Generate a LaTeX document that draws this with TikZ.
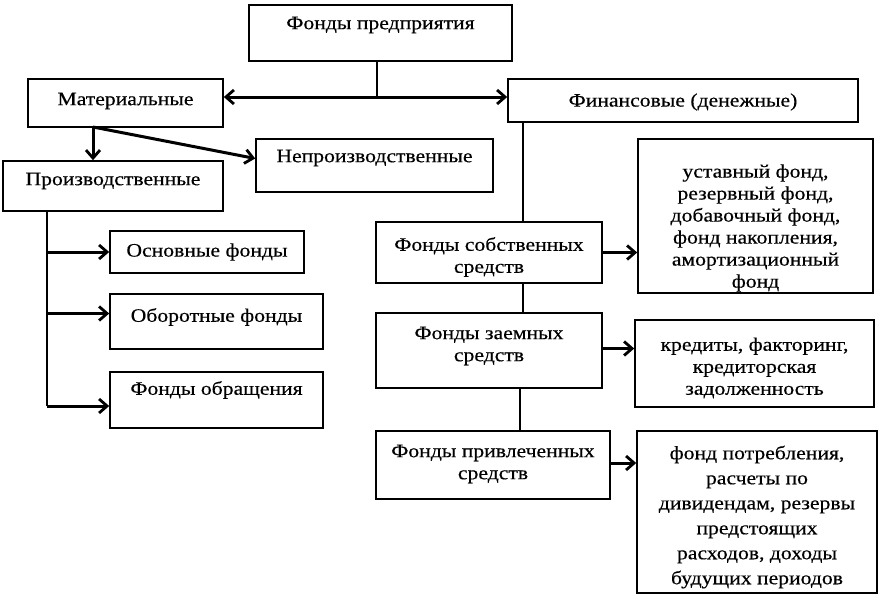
\documentclass[tikz,border=0pt]{standalone}
\usepackage{fontspec}
\setmainfont[FakeStretch=1.14,FakeBold=0.4]{Liberation Serif}
\usetikzlibrary{arrows.meta,calc}
\begin{document}
\begin{tikzpicture}[x=1pt,y=-1pt,
 box/.style={draw, line width=1.6pt, inner sep=0pt},
 txt/.style={align=center, inner sep=0pt, font=\fontsize{19}{22}\selectfont},
 link/.style={line width=1.7pt},
 arr/.style={line width=3pt, -{Straight Barb[length=8pt,width=14pt,line width=2.8pt]}},
 darr/.style={line width=3pt, {Straight Barb[length=8pt,width=14pt,line width=2.8pt]}-{Straight Barb[length=8pt,width=14pt,line width=2.8pt]}}]
\useasboundingbox[fill=white] (0,0) rectangle (894,600);
% boxes
\node[box, minimum width=263pt, minimum height=56pt] (top) at (380.5,33) {};
\node[box, minimum width=195pt, minimum height=48pt] (mat) at (125.5,103) {};
\node[box, minimum width=350pt, minimum height=43pt] (fin) at (683,100.5) {};
\node[box, minimum width=237pt, minimum height=53pt] (nepr) at (374.5,165.5) {};
\node[box, minimum width=220pt, minimum height=50pt] (proiz) at (113,186) {};
\node[box, minimum width=194pt, minimum height=42pt] (osn) at (207,252) {};
\node[box, minimum width=213pt, minimum height=55pt] (obor) at (216.5,321.5) {};
\node[box, minimum width=213pt, minimum height=56pt] (obr) at (216.5,400) {};
\node[box, minimum width=226pt, minimum height=61pt] (sob) at (489,252.5) {};
\node[box, minimum width=226pt, minimum height=75pt] (zaem) at (489,350.5) {};
\node[box, minimum width=234pt, minimum height=68pt] (priv) at (493,465) {};
\node[box, minimum width=235pt, minimum height=154pt] (r1) at (755.5,216) {};
\node[box, minimum width=239pt, minimum height=87pt] (r2) at (754.5,363.5) {};
\node[box, minimum width=240pt, minimum height=162pt] (r3) at (757,512) {};
% texts
\node[txt] (topT) at (380.5,25) {Фонды предприятия};
\node[txt] (matT) at (125.5,101) {Материальные};
\node[txt] (finT) at (683,102) {Финансовые (денежные)};
\node[txt] (neprT) at (374.5,158) {Непроизводственные};
\node[txt] (proizT) at (113,181) {Производственные};
\node[txt] (osnT) at (207,252) {Основные фонды};
\node[txt] (oborT) at (216.5,317) {Оборотные фонды};
\node[txt] (obrT) at (216.5,390) {Фонды обращения};
\node[txt] (sobT) at (489,257) {Фонды собственных\\средств};
\node[txt] (zaemT) at (489,346) {Фонды заемных\\средств};
\node[txt] (privT) at (493,464) {Фонды привлеченных\\средств};
\node[txt] (r1T) at (755.5,228) {уставный фонд,\\резервный фонд,\\добавочный фонд,\\фонд накопления,\\амортизационный\\фонд};
\node[txt] (r2T) at (754.5,368) {кредиты, факторинг,\\кредиторская\\задолженность};
\node[txt, font=\fontsize{19}{25}\selectfont] (r3T) at (757,517) {фонд потребления,\\расчеты по\\дивидендам, резервы\\предстоящих\\расходов, доходы\\будущих периодов};
% junction coordinates
\coordinate (j1) at (377,97);
\coordinate (m1) at (93,127);
\coordinate (p1) at (47,211);
\coordinate (p2) at (47,406);
\coordinate (f1) at (523,122);
\coordinate (s1) at (523,283);
\coordinate (z1) at (520,388);
% connectors
\draw[link] (top.south -| j1) -- (j1);
\draw[darr] (mat.east |- j1) -- (fin.west |- j1);
\draw[arr] (m1) -- (m1 |- proiz.north);
\draw[arr] (m1) -- ($(nepr.west)+(0,-7)$);
\draw[link] (p1) -- (p2);
\draw[arr] (p1 |- osn.west) -- (osn.west);
\draw[arr] ($(p1 |- obor.west)+(0,-8)$) -- ($(obor.west)+(0,-8)$);
\draw[arr] (p2) -- (p2 -| obr.west);
\draw[link] (f1) -- (f1 |- sob.north);
\draw[link] (s1) -- (s1 |- zaem.north);
\draw[link] (z1) -- (z1 |- priv.north);
\draw[arr] (sob.east) -- (sob.east -| r1.west);
\draw[arr] ($(zaem.east)+(0,-2)$) -- ($(zaem.east -| r2.west)+(0,-2)$);
\draw[arr] ($(priv.east)+(0,-2)$) -- ($(priv.east -| r3.west)+(0,-2)$);
\end{tikzpicture}
\end{document}
